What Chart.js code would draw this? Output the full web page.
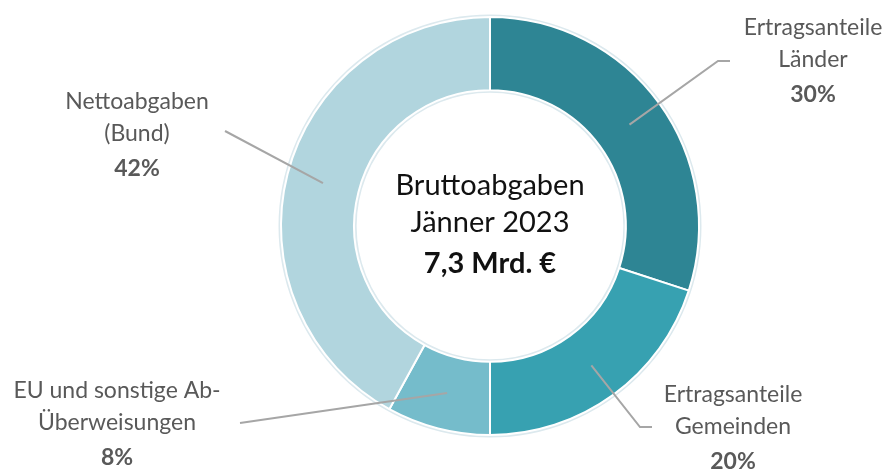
<!DOCTYPE html>
<html>
<head>
<meta charset="utf-8">
<script src="https://cdn.jsdelivr.net/npm/chart.js@4"></script>
<style>
  body { margin: 0; background: #fff; }
  #wrap { width: 891px; height: 469px; }
</style>
</head>
<body>
<div id="wrap"><canvas id="chart-canvas" width="891" height="469"></canvas></div>
<script>
// data
let categories = [
  ["Ertragsanteile", "Länder"],
  ["Ertragsanteile", "Gemeinden"],
  ["EU und sonstige Ab-", "Überweisungen"],
  ["Nettoabgaben", "(Bund)"],
];
let shares = [30, 20, 8, 42];
let centerLines = ["Bruttoabgaben", "Jänner 2023", "7,3 Mrd. €"];

let colors = ["#2E8594", "#37A1B1", "#75BCCB", "#B1D5DE"];

// where each label sits and how its leader line bends
let labelSpots = [
  { x: 813, y: 28, elbow: [718, 61], end: [730, 61] },
  { x: 733, y: 395, elbow: [640, 427], end: [652, 427] },
  { x: 117, y: 391, elbow: [240, 423], end: [240, 423] },
  { x: 137, y: 102, elbow: [225, 131], end: [225, 131] },
];

let labelFont = "Lato, 'Open Sans', sans-serif";

// faint halo around the ring
let haloPlugin = {
  id: "halo",
  beforeDatasetsDraw(chart) {
    let arc = chart.getDatasetMeta(0).data[0];
    let c = chart.ctx;
    c.save();
    c.strokeStyle = "#DCE9EE";
    c.lineWidth = 3;
    c.beginPath();
    c.arc(arc.x, arc.y, arc.outerRadius + 1, 0, Math.PI * 2);
    c.stroke();
    c.beginPath();
    c.arc(arc.x, arc.y, arc.innerRadius - 1, 0, Math.PI * 2);
    c.stroke();
    c.restore();
  },
};

let labelPlugin = {
  id: "labels",
  afterDatasetsDraw(chart) {
    let c = chart.ctx;
    let meta = chart.getDatasetMeta(0);
    c.save();

    // leader lines
    meta.data.forEach(function (arc, i) {
      let mid = (arc.startAngle + arc.endAngle) / 2;
      let r = (arc.innerRadius + arc.outerRadius) / 2;
      let sx = arc.x + Math.cos(mid) * r;
      let sy = arc.y + Math.sin(mid) * r;
      let spot = labelSpots[i];
      c.strokeStyle = "#A6A6A6";
      c.lineWidth = 2;
      c.beginPath();
      c.moveTo(sx, sy);
      c.lineTo(spot.elbow[0], spot.elbow[1]);
      c.lineTo(spot.end[0], spot.end[1]);
      c.stroke();
    });

    // label text
    c.textAlign = "center";
    c.textBaseline = "middle";
    categories.forEach(function (lines, i) {
      let spot = labelSpots[i];
      c.fillStyle = "#595959";
      c.font = "23px " + labelFont;
      c.fillText(lines[0], spot.x, spot.y);
      c.fillText(lines[1], spot.x, spot.y + 32);
      c.font = "bold 23px " + labelFont;
      c.fillText(shares[i] + "%", spot.x, spot.y + 67);
    });

    // center text
    let arc0 = meta.data[0];
    c.fillStyle = "#111";
    c.font = "29px " + labelFont;
    c.fillText(centerLines[0], arc0.x, arc0.y - 40);
    c.fillText(centerLines[1], arc0.x, arc0.y - 3);
    c.font = "bold 29px " + labelFont;
    c.fillText(centerLines[2], arc0.x, arc0.y + 38);
    c.restore();
  },
};

let chart1 = new Chart(document.getElementById("chart-canvas"), {
  type: "doughnut",
  data: {
    labels: categories.map(function (l) { return l.join(" "); }),
    datasets: [
      {
        data: shares,
        backgroundColor: colors,
        borderColor: "#fff",
        borderWidth: 2,
      },
    ],
  },
  options: {
    responsive: false,
    animation: false,
    cutout: "65%",
    layout: { padding: { left: 280, right: 191, top: 16, bottom: 33 } },
    plugins: {
      legend: { display: false },
      tooltip: { enabled: false },
    },
  },
  plugins: [haloPlugin, labelPlugin],
});
</script>
</body>
</html>
